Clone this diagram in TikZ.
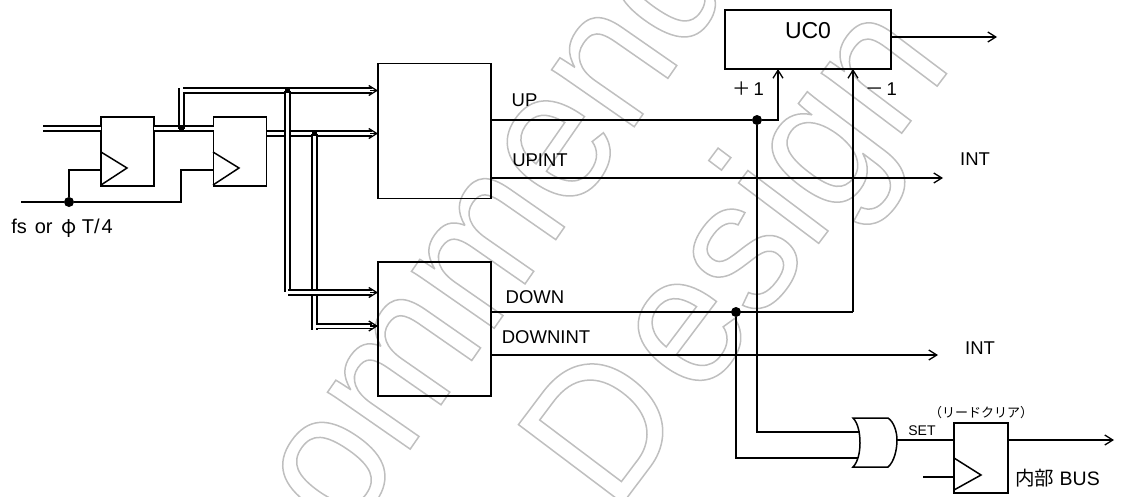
\documentclass[tikz,border=0pt]{standalone}
\usepackage{fontspec}
\setmainfont{Liberation Sans}
\newfontfamily\jp{Noto Sans CJK JP}
\newfontfamily\wmfont[FakeStretch=0.93]{Liberation Sans}
\usetikzlibrary{arrows.meta}
\newcommand{\markoutline}[1]{\special{pdf:code 1 Tr 1.5 w 0.75 G}#1\special{pdf:code 0 Tr 1 w 0 G}}
\tikzset{
  x=1pt,y=-1pt,
  box/.style={draw,line width=1.5pt,fill=white,inner sep=0pt,outer sep=0pt},
  wire/.style={line width=1.5pt},
  thick wire/.style={line width=1.9pt},
  tipped/.style={wire,-{Straight Barb[length=8pt,width=10pt,line width=1.3pt]}},
  bus/.style={double,line width=1.6pt,double distance=3pt},
  dot/.style={circle,fill=black,inner sep=0pt,outer sep=0pt,minimum size=10pt},
  sq/.style={rectangle,fill=black,inner sep=0pt,outer sep=0pt,minimum size=5pt},
  lbl/.style={inner sep=0pt,font=\fontsize{18.5}{20}\selectfont},
  wm/.style={inner sep=0pt,anchor=base west,font=\wmfont\fontsize{190}{190}\selectfont}
}
\begin{document}
\begin{tikzpicture}
\useasboundingbox (0,0) rectangle (1125,496);
% watermark
\begin{scope}
\clip (0,0) rectangle (1125,496);
\node[wm,rotate=55.2] (wm1) at (347,540) {\markoutline{ommend}};
\node[wm,rotate=53] (wm2) at (614,515) {\markoutline{D\kern14pt esign}};
\end{scope}
% flip-flops
\node[box,fill=none,minimum width=53pt,minimum height=69pt] (ff1) at (127.5,151.5) {};
\node[box,fill=none,minimum width=53pt,minimum height=69pt] (ff2) at (240,151.5) {};
\node[box,fill=none,minimum width=54pt,minimum height=70pt] (ff3) at (981,458) {};
\draw[line width=1.5pt] (101,152) -- (127,168) -- (101,185);
\draw[line width=1.5pt] (213,152) -- (239,168) -- (213,185);
\draw[line width=1.5pt] (954,458) -- (981,475) -- (954,490);
% main blocks
\node[box,fill=none,minimum width=113pt,minimum height=135pt] (upblk) at (434.5,131) {};
\node[box,fill=none,minimum width=113pt,minimum height=134pt] (dnblk) at (434.5,329) {};
\node[box,fill=none,minimum width=166pt,minimum height=59pt] (uc) at (808,39.5) {};
\node[lbl,font=\fontsize{23}{25}\selectfont] (uclbl) at (808,31) {UC0};
% clock
\coordinate (clkin) at (21,202);
\node[dot] (clkdot) at (69,202) {};
\coordinate (clk1) at (101,170);
\coordinate (clk2) at (213,170);
\draw[wire] (clkin) -- (clkdot) -- (181,202) -- (181,170) -- (clk2);
\draw[wire] (clkdot) -- (69,170) -- (clk1);
% bus lines
\coordinate (busin) at (43,128.5);
\coordinate (j0) at (181,128.5);
\coordinate (j1top) at (179,88);
\draw[bus] (busin) -- (ff1.west |- busin);
\draw[bus] (ff1.east |- busin) -- (ff2.west |- busin);
\draw[line width=1.6pt] (j1top) -- (179,128.5);
\draw[line width=1.6pt] (184,92) -- (184,128.5);
\coordinate (t1s) at (183,90.5);
\coordinate (t1e) at (372,90.5);
\coordinate (t2s) at (267,133.5);
\coordinate (t2e) at (372,133.5);
\coordinate (j1) at (287.5,90.5);
\coordinate (j2) at (314.5,133.5);
\draw[bus] (t1s) -- (t1e);
\draw[bus] (t2s) -- (t2e);
\draw[bus] (287.5,90.5) -- (287.5,292);
\draw[bus] (314.5,133.5) -- (314.5,330);
\coordinate (t3s) at (288,292.5);
\coordinate (t3e) at (372,292.5);
\coordinate (t4s) at (316,326);
\coordinate (t4e) at (372,326);
\draw[bus] (t3s) -- (t3e);
\draw[bus] (t4s) -- (t4e);
\draw[tipped] (370,90.5) -- (upblk.west |- t1e);
\draw[tipped] (370,133.5) -- (upblk.west |- t2e);
\draw[tipped] (370,292.5) -- (dnblk.west |- t3e);
\draw[tipped] (370,326) -- (dnblk.west |- t4e);
\node[sq] (s0) at (j0) {};
\node[sq] (s1) at (j1) {};
\node[sq] (s2) at (j2) {};
% outputs
\node[dot] (updot) at (757,120) {};
\node[dot] (dndot) at (736,312) {};
\coordinate (upin) at (778,69);
\coordinate (dnin) at (853,69);
\coordinate (ucout) at (997,37);
\coordinate (int1) at (943,178);
\coordinate (int2) at (938,355);
\draw[thick wire] (upblk.east |- updot) -- (updot) -- (779,120);
\draw[tipped] (778,120) -- (upin);
\draw[thick wire] (dnblk.east |- dndot) -- (853,312);
\draw[tipped] (853,312) -- (dnin);
\draw[tipped] (uc.east |- ucout) -- (ucout);
\draw[tipped] (upblk.east |- int1) -- (int1);
\draw[tipped] (dnblk.east |- int2) -- (int2);
% OR gate
\coordinate (orin1) at (860,432);
\coordinate (orin2) at (858,458);
\coordinate (orout) at (897,440);
\draw[wire] (updot) -- (757,432) -- (orin1);
\draw[wire] (dndot) -- (736,458) -- (orin2);
\draw[line width=1.5pt] (853,418) -- (888,418) .. controls (894,422) and (897,432) .. (orout)
  .. controls (897,450) and (894,462) .. (888,467) -- (853,467)
  .. controls (858,462) and (860,452) .. (860,443) .. controls (860,433) and (858,423) .. (853,418) -- cycle;
\draw[wire] (orout) -- (ff3.west |- orout);
\coordinate (busout) at (1114,440);
\draw[tipped] (ff3.east |- busout) -- (busout);
\coordinate (clk3) at (923,477);
\draw[wire] (clk3) -- (ff3.west |- clk3);
% labels
\node[lbl,font=\fontsize{20}{22}\selectfont] (l1) at (62,228) {fs\hspace{8pt}or\hspace{9pt}{\jp φ}\hspace{5pt}T/\hspace{2pt}4};
\node[lbl] (l2) at (524.5,100) {UP};
\node[lbl] (l3) at (540,160.5) {UPINT};
\node[lbl] (l4) at (535,297) {DOWN};
\node[lbl] (l5) at (546,337) {DOWNINT};
\node[lbl] (l6) at (748,89) {{\jp ＋}\,1};
\node[lbl] (l7) at (881,89) {{\jp －}\,1};
\node[lbl] (l8) at (975,159) {INT};
\node[lbl] (l9) at (980,348) {INT};
\node[lbl,font=\fontsize{14}{16}\selectfont] (l10) at (922,431) {SET};
\node[lbl,font=\fontsize{13}{15}\selectfont\jp] (l11) at (981,413) {（リードクリア）};
\node[lbl,font=\fontsize{19.5}{21}\selectfont] (l12) at (1057.5,478) {{\jp 内部} BUS};
\end{tikzpicture}
\end{document}
